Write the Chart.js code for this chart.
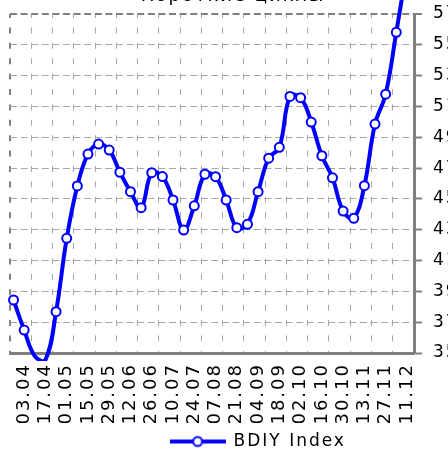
<!DOCTYPE html>
<html>
<head>
<meta charset="utf-8">
<script src="https://cdn.jsdelivr.net/npm/chart.js@4.4.1/dist/chart.umd.min.js"></script>
<style>
  html, body { margin: 0; padding: 0; background: #fff; overflow: hidden; }
  #wrap { position: relative; width: 448px; height: 454px; overflow: hidden; }
  #chart { position: absolute; left: 0; top: -16px; }
</style>
</head>
<body>
<div id="wrap"><canvas id="chart" width="506" height="476"></canvas></div>
<script>
// weekly BDIY values (27.03 .. 11.12)
const weeks = [
  "27.03", "03.04", "10.04", "17.04", "24.04", "01.05", "08.05", "15.05", "22.05", "29.05",
  "05.06", "12.06", "19.06", "26.06", "03.07", "10.07", "17.07", "24.07", "31.07", "07.08",
  "14.08", "21.08", "28.08", "04.09", "11.09", "18.09", "25.09", "02.10", "09.10", "16.10",
  "23.10", "30.10", "06.11", "13.11", "20.11", "27.11", "04.12", "11.12"
];
const values = [
  3844, 3649, 3480, 3455, 3768, 4244, 4584, 4791, 4856, 4817,
  4673, 4547, 4443, 4670, 4645, 4493, 4298, 4455, 4660, 4644,
  4493, 4313, 4335, 4547, 4764, 4835, 5165, 5157, 4999, 4780,
  4637, 4421, 4374, 4586, 4986, 5180, 5581, 6000
];
// labels shown every second week
const tickLabels = [
  "03.04", "17.04", "01.05", "15.05", "29.05", "12.06", "26.06", "10.07", "24.07", "07.08",
  "21.08", "04.09", "18.09", "02.10", "16.10", "30.10", "13.11", "27.11", "11.12"
];
const yMin = 3500;
const yMax = 5700;
const yStep = 200;
const seriesName = "BDIY Index";
const chartTitle = "Короткие циклы";

const lineColor = '#0000ff';
const gridColor = '#a6a6a6';
const axisColor = '#808080';
const xMin = -1 / 3;
const xMax = weeks.length - 1 + 2 / 3;

// legend sample: line with an open marker
const legendMark = document.createElement('canvas');
legendMark.width = 56;
legendMark.height = 14;
const lc = legendMark.getContext('2d');
lc.strokeStyle = lineColor;
lc.lineWidth = 4;
lc.beginPath(); lc.moveTo(0, 7); lc.lineTo(56, 7); lc.stroke();
lc.beginPath(); lc.arc(28, 7, 4.5, 0, Math.PI * 2);
lc.fillStyle = '#fff'; lc.fill();
lc.lineWidth = 2; lc.stroke();

// wide lettering for title/legend, normal for the axis labels
const spacing = {
  id: 'spacing',
  beforeLayout(chart) { chart.ctx.letterSpacing = '2px'; },
  afterLayout(chart) {
    // title sits a bit left of the legend in the original
    if (chart.titleBlock) {
      chart.titleBlock.left -= 25;
      chart.titleBlock.right -= 25;
    }
  },
  beforeDraw(chart) { chart.ctx.letterSpacing = '2px'; },
  beforeDatasetsDraw(chart) { chart.ctx.letterSpacing = '0px'; },
  afterDraw(chart) { chart.ctx.letterSpacing = '0px'; }
};

const points = weeks.map((w, i) => ({ x: i, y: values[i] }));

new Chart(document.getElementById('chart'), {
  type: 'line',
  data: {
    datasets: [{
      label: seriesName,
      data: points,
      borderColor: lineColor,
      borderWidth: 4,
      tension: 0.4,
      pointRadius: ctx => (ctx.raw && (ctx.raw.y < yMin || ctx.raw.y > yMax)) ? 0 : 4.5,
      pointBackgroundColor: '#fff',
      pointBorderColor: lineColor,
      pointBorderWidth: 2,
      clip: { left: 10, top: 16, right: 0, bottom: 8 }
    }]
  },
  options: {
    responsive: false,
    animation: false,
    layout: { padding: { left: 10, right: 0, top: 0, bottom: 0 } },
    font: { family: 'DejaVu Sans' },
    scales: {
      xg: {
        type: 'linear',
        position: 'bottom',
        min: xMin,
        max: xMax,
        afterBuildTicks: axis => {
          const t = [];
          for (let v = xMin; v <= xMax + 0.01; v += 2) t.push({ value: v });
          axis.ticks = t;
        },
        afterFit: axis => { axis.height = 0; },
        ticks: { display: false },
        border: { display: false, dash: [6, 9.4], dashOffset: 2 },
        grid: {
          drawTicks: false,
          color: ctx => ctx.index === 0 ? axisColor : gridColor,
          lineWidth: ctx => ctx.index === 0 ? 2 : 1
        }
      },
      x: {
        type: 'linear',
        position: 'bottom',
        min: xMin,
        max: xMax,
        z: 1,
        afterBuildTicks: axis => {
          axis.ticks = tickLabels.map((t, j) => ({ value: 2 * j + 1 }));
        },
        afterFit: axis => { axis.height = 70; },
        ticks: {
          autoSkip: false,
          minRotation: 90,
          maxRotation: 90,
          padding: 10,
          color: '#000',
          font: { family: 'DejaVu Sans', size: 18 },
          callback: (v, i) => tickLabels[i]
        },
        border: { display: true, color: axisColor, width: 3 },
        grid: { display: false, drawTicks: false }
      },
      y: {
        position: 'right',
        min: yMin,
        max: yMax,
        z: 1,
        afterFit: axis => { axis.width = 92; },
        ticks: {
          stepSize: yStep,
          padding: 11,
          color: '#000',
          font: { family: 'DejaVu Sans', size: 17 },
          callback: v => String(v)
        },
        border: { display: true, color: axisColor, width: 3, dash: [7, 3.6] },
        grid: {
          color: ctx => ctx.tick && ctx.tick.value === yMax ? axisColor : (ctx.tick && ctx.tick.value === yMin ? 'rgba(0,0,0,0)' : gridColor),
          lineWidth: ctx => ctx.tick && ctx.tick.value === yMax ? 2 : 1,
          tickLength: 8,
          tickColor: axisColor,
          tickWidth: 2
        }
      }
    },
    plugins: {
      title: {
        display: true,
        text: chartTitle,
        color: '#000',
        font: { family: 'DejaVu Sans', size: 18, weight: 'normal' },
        padding: { top: 2, bottom: 6.4 }
      },
      legend: {
        position: 'bottom',
        labels: {
          usePointStyle: true,
          pointStyle: legendMark,
          pointStyleWidth: 55,
          padding: 10,
          color: '#000',
          font: { family: 'DejaVu Sans', size: 17 }
        }
      },
      tooltip: { enabled: false }
    }
  },
  plugins: [spacing]
});
</script>
</body>
</html>
